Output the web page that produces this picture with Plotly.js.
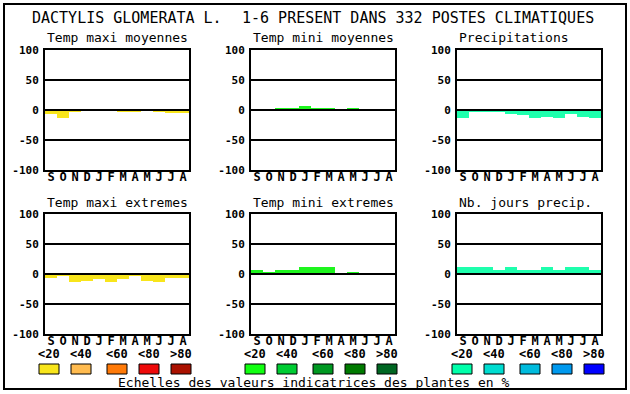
<!DOCTYPE html>
<html><head><meta charset="utf-8">
<script src="https://cdn.plot.ly/plotly-3.0.1.min.js"></script>
<style>html,body{margin:0;padding:0;background:#fff}#chart{width:630px;height:394px}</style>
</head><body><div id="chart"></div>
<script>
// ---- data ----
const months = ['S','O','N','D','J','F','M','A','M','J','J','A'];
const tempMaxiMoyennes = [-7, -13, -3, 2, -2, 0, -4, -4, 0, -4, -5, -5];
const tempMiniMoyennes = [2, 0, 3, 3, 7, 3, 3, 0, 3, 0, 0, 2];
const precipitations = [-13, -4, -4, -3, -6, -8, -13, -11, -13, -6, -11, -13];
const tempMaxiExtremes = [-7, -3, -13, -11, -8, -14, -8, -3, -11, -13, -6, -6];
const tempMiniExtremes = [7, 4, 6, 7, 11, 11, 11, 0, 4, 2, 2, 2];
const nbJoursPrecip = [11, 11, 11, 7, 11, 7, 7, 11, 6, 11, 11, 7];
const yTickVals = [-100, -50, 0, 50, 100];
const yTickText = ['-100', '-50', '0', '50', '100'];
const scaleLabels = ['<20', '<40', '<60', '<80', '>80'];
const panelTitles = ['Temp maxi moyennes', 'Temp mini moyennes', 'Precipitations',
                     'Temp maxi extremes', 'Temp mini extremes', 'Nb. jours precip.'];
const mainTitleLeft = 'DACTYLIS GLOMERATA L.';
const mainTitleRight = '1-6 PRESENT DANS 332 POSTES CLIMATIQUES';
const footer = 'Echelles des valeurs indicatrices des plantes en %';

// ---- styles ----
const W = 630, H = 394;
const px = v => v / W;
const py = v => 1 - v / H;
const MONO = '"DejaVu Sans Mono", "Liberation Mono", monospace';
const yellow = '#f8e51b', green = '#1ef51e', teal = '#1effad';
const scaleColors = [
  ['#f8e51b', '#ffbb4f', '#ff7a08', '#ee0a0a', '#aa1100'],
  ['#11ff11', '#00cc33', '#009922', '#007a00', '#006622'],
  ['#00ffaa', '#00dcd0', '#00bbdd', '#0099ee', '#0000ff']
];
const series = [tempMaxiMoyennes, tempMiniMoyennes, precipitations,
                tempMaxiExtremes, tempMiniExtremes, nbJoursPrecip];
const colors = [yellow, green, teal, yellow, green, teal];
const colX = [45, 251, 457];
const rowY = [50, 214];
const PW = 144, PH = 120;

const xIdx = months.map((m, i) => i);
const data = [];
const layout = {
  width: W, height: H,
  margin: {l: 0, r: 0, t: 0, b: 0},
  paper_bgcolor: '#fff', plot_bgcolor: '#fff',
  showlegend: false, bargap: 0,
  font: {family: MONO, color: '#000'},
  annotations: [], shapes: []
};

for (let k = 0; k < 6; k++) {
  const col = k % 3, row = Math.floor(k / 3);
  const n = k + 1;
  const xa = 'x' + (n === 1 ? '' : n), ya = 'y' + (n === 1 ? '' : n);
  data.push({
    type: 'bar', x: xIdx, y: series[k], xaxis: xa, yaxis: ya,
    width: 1, marker: {color: colors[k], line: {width: 0}}, hoverinfo: 'skip'
  });
  const x0 = colX[col], y0 = rowY[row];
  layout['xaxis' + (n === 1 ? '' : n)] = {
    domain: [px(x0), px(x0 + PW)], anchor: ya, range: [-0.5, 11.5],
    tickvals: xIdx, ticktext: months, ticks: '', showgrid: false, zeroline: false,
    showline: true, mirror: true, linecolor: '#000', linewidth: 2,
    tickfont: {family: MONO, size: 12, color: '#000', weight: 'bold'},
    ticklabelstandoff: -5, fixedrange: true
  };
  layout['yaxis' + (n === 1 ? '' : n)] = {
    domain: [py(y0 + PH), py(y0)], anchor: xa, range: [-100, 100],
    tickvals: yTickVals, ticktext: yTickText, ticks: '',
    showgrid: true, gridcolor: '#000', gridwidth: 2, zeroline: false,
    showline: true, mirror: true, linecolor: '#000', linewidth: 2,
    tickfont: {family: MONO, size: 11, color: '#000', weight: 'bold'},
    ticklabelstandoff: 2, fixedrange: true
  };
  // zero line above bars
  layout.shapes.push({
    type: 'line', xref: xa + ' domain', yref: ya, x0: 0, x1: 1, y0: 0, y1: 0,
    line: {color: '#000', width: 2}, layer: 'above'
  });
  layout.annotations.push({
    text: panelTitles[k], xref: 'paper', yref: 'paper',
    x: px(x0), y: py(y0 - 12), xanchor: 'left', yanchor: 'middle', showarrow: false,
    font: {family: MONO, size: 13, color: '#000'}
  });
}

// main title
layout.annotations.push({
  text: mainTitleLeft, xref: 'paper', yref: 'paper', x: px(30), y: py(18),
  xanchor: 'left', yanchor: 'middle', showarrow: false,
  font: {family: MONO, size: 15, color: '#000'}
});
layout.annotations.push({
  text: mainTitleRight, xref: 'paper', yref: 'paper', x: px(596), y: py(18),
  xanchor: 'right', yanchor: 'middle', showarrow: false,
  font: {family: MONO, size: 15, color: '#000'}
});
// footer
layout.annotations.push({
  text: footer, xref: 'paper', yref: 'paper', x: px(314), y: py(382),
  xanchor: 'center', yanchor: 'middle', showarrow: false,
  font: {family: MONO, size: 13, color: '#000'}
});

// colour scales
const boxOffsets = [0, 32, 68, 100, 132];
const boxStarts = [39, 245, 452];
for (let c = 0; c < 3; c++) {
  for (let i = 0; i < 5; i++) {
    const bx = boxStarts[c] + boxOffsets[i];
    layout.shapes.push({
      type: 'rect', xref: 'paper', yref: 'paper',
      x0: px(bx), x1: px(bx + 20), y0: py(374), y1: py(364),
      fillcolor: scaleColors[c][i], line: {color: '#000', width: 1}
    });
    layout.annotations.push({
      text: scaleLabels[i], xref: 'paper', yref: 'paper',
      x: px(bx + 10), y: py(354), xanchor: 'center', yanchor: 'middle', showarrow: false,
      font: {family: MONO, size: 12, color: '#000', weight: 'bold'}
    });
  }
}

// outer frame
layout.shapes.push({
  type: 'rect', xref: 'paper', yref: 'paper',
  x0: px(4), x1: px(626), y0: py(389), y1: py(4),
  line: {color: '#000', width: 2}, fillcolor: 'rgba(0,0,0,0)'
});

Plotly.newPlot('chart', data, layout, {staticPlot: true, displayModeBar: false});
</script>
</body></html>
